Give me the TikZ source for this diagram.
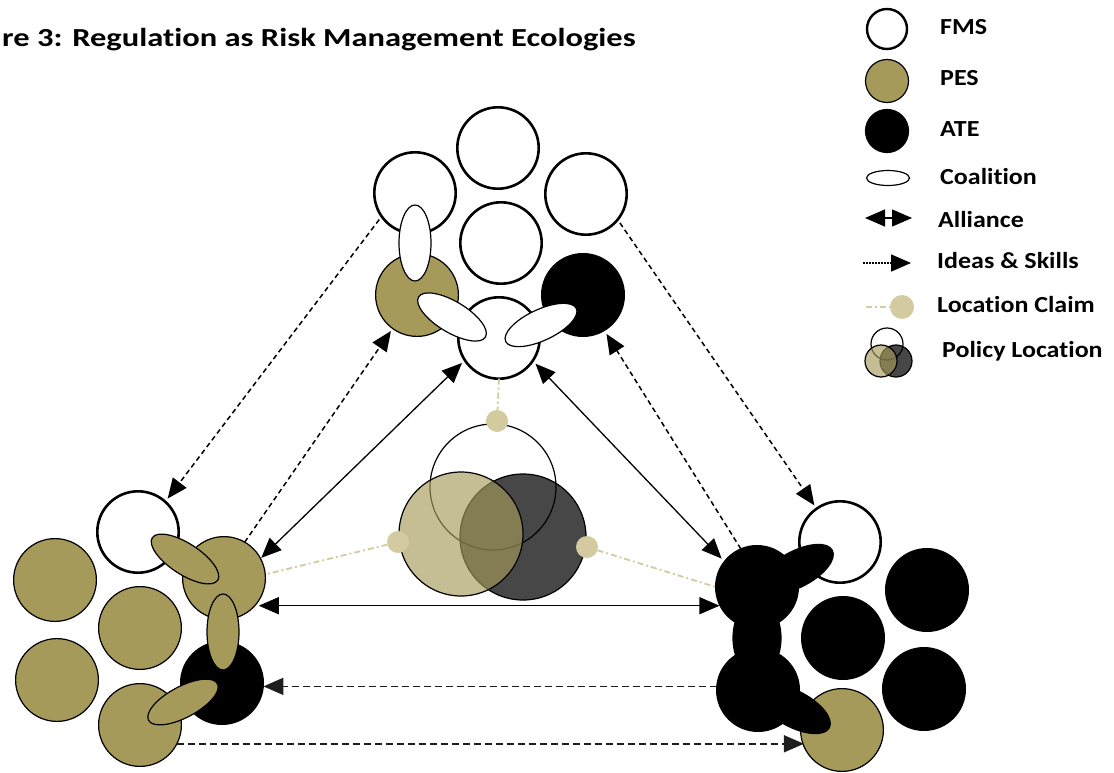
\documentclass[tikz,border=0pt]{standalone}
\usepackage{fontspec}
\setmainfont{Carlito}[Ligatures=NoCommon]
\usetikzlibrary{shapes.geometric,arrows.meta}
\definecolor{pes}{RGB}{166,154,90}
\definecolor{claim}{RGB}{212,202,160}
\newcommand{\legstretch}[1]{\scalebox{1.13}[1]{#1}}
\tikzset{
  fms/.style={circle,draw=black,line width=2.6pt,fill=white,minimum size=81.4pt,inner sep=0pt,outer sep=0pt},
  pesc/.style={circle,draw=black,line width=1.2pt,fill=pes,minimum size=82.8pt,inner sep=0pt,outer sep=0pt},
  atec/.style={circle,draw=black,line width=1.2pt,fill=black,minimum size=82.8pt,inner sep=0pt,outer sep=0pt},
  coalv/.style={ellipse,draw=black,line width=1.2pt,fill=white,minimum width=32pt,minimum height=76pt,inner sep=0pt,outer sep=0pt},
  coald/.style={ellipse,draw=black,line width=1.2pt,fill=white,minimum width=78pt,minimum height=31pt,inner sep=0pt,outer sep=0pt},
  ideas/.style={line width=1.5pt,dash pattern=on 5pt off 3.5pt,-{Triangle[length=20pt,width=17pt]}},
  ideash/.style={line width=1.6pt,dash pattern=on 7pt off 4pt,-{Triangle[length=20pt,width=17pt]},draw={rgb,255:red,30;green,30;blue,30}},
  alliance/.style={line width=1.3pt,{Triangle[length=20pt,width=17pt]}-{Triangle[length=20pt,width=17pt]}},
  claimline/.style={draw=claim,line width=1.8pt,dash pattern=on 6pt off 3pt on 2pt off 3pt},
  claimdot/.style={circle,fill=claim,minimum size=22pt,inner sep=0pt,outer sep=0pt},
  legtext/.style={font=\fontsize{23}{25}\selectfont\bfseries,inner sep=0pt,anchor=base west},
}
\begin{document}
\begin{tikzpicture}[x=1pt,y=-1pt]
\useasboundingbox (0,0) rectangle (1114,773);
% title
\node[font=\fontsize{26}{28}\selectfont\bfseries,inner sep=0pt,anchor=base west] (title) at (2,47) {\scalebox{1.25}[1]{re 3: Regulation as Risk Management Ecologies}};

% ---------- top cluster ----------
\node[fms] (tA) at (498,148) {};
\node[fms] (tB) at (415,193) {};
\node[fms] (tC) at (586,194) {};
\node[fms] (tD) at (501,243) {};
\node[pesc] (tP) at (417,295) {};
\node[atec] (tK) at (583,295) {};
\node[fms] (tE) at (499,338) {};
\node[coalv] (tV) at (415,243) {};
\node[coald,rotate=-31] (tL) at (452,317) {};
\node[coald,rotate=25] (tR) at (541,325) {};

% ---------- left cluster ----------
\node[fms] (lF) at (138,532) {};
\node[pesc] (lP1) at (224,578) {};
\node[pesc] (lP2) at (55,580) {};
\node[pesc] (lP3) at (140,628) {};
\node[pesc] (lP4) at (57,680) {};
\node[atec] (lK) at (222,683) {};
\node[pesc] (lP5) at (140,725) {};
\node[coald,fill=pes,rotate=-33] (lU) at (185,559) {};
\node[coalv,fill=pes] (lV) at (223,632) {};
\node[coald,fill=pes,rotate=28] (lD) at (183,702) {};

% ---------- right cluster ----------
\node[fms] (rF) at (840,542) {};
\node[atec] (rK1) at (757,587) {};
\node[atec] (rK2) at (843,638) {};
\node[atec] (rK3) at (927,590) {};
\node[atec] (rK4) at (758,690) {};
\node[atec] (rK5) at (924,689) {};
\node[pesc] (rP) at (842,730) {};
\node[coald,fill=black,rotate=28,minimum width=80pt,minimum height=36pt] (rU) at (797,569) {};
\node[coalv,fill=black,minimum width=48pt] (rV) at (757,638) {};
\node[coald,fill=black,rotate=-28,minimum width=80pt,minimum height=36pt] (rD) at (794,709) {};

% ---------- policy location (Venn) ----------
\node[circle,draw=black,line width=1.2pt,fill=white,minimum size=126pt,inner sep=0pt] (vW) at (493,487) {};
\node[circle,draw=black,line width=1.2pt,fill=black,fill opacity=0.72,minimum size=126pt,inner sep=0pt] (vK) at (523,537) {};
\node[circle,draw=black,line width=1.2pt,fill=pes,fill opacity=0.65,minimum size=124pt,inner sep=0pt] (vP) at (461,534) {};

% ---------- location claims ----------
\node[claimdot] (cT) at (497,421) {};
\node[claimdot] (cL) at (398,542) {};
\node[claimdot] (cR) at (587,547) {};
\draw[claimline] (tE.south) -- (cT);
\draw[claimline] (cL) -- (lP1.5);
\draw[claimline] (cR) -- (rK1.west);

% ---------- connectors ----------
\draw[ideas,shorten <=4pt,shorten >=4pt] (tB.215) -- (lF.48);
\draw[ideas,shorten >=3pt] (lP1.60) -- (tP.234);
\draw[ideas,shorten <=4pt,shorten >=4pt] (tC.321) -- (rF.125);
\draw[ideas,shorten >=4pt] (rK1.113) -- (tK.301);
\draw[alliance,shorten <=1pt,shorten >=4pt] (lP1.28) -- (tE.213);
\draw[alliance,shorten <=4pt,shorten >=4pt] (tE.326) -- (rK1.142);
\draw[alliance,shorten <=4pt] (lP1.318) -- (lP1.318 -| rK1.205);
\draw[ideash] (rK4.175) -- (rK4.175 -| lK.east);
\draw[ideash] (lP5.333) -- (lP5.333 -| rP.203);

% ---------- legend ----------
\node[circle,draw=black,line width=2.4pt,fill=white,minimum size=40pt,inner sep=0pt] (gF) at (887,29) {};
\node[circle,draw=black,line width=1.2pt,fill=pes,minimum size=43pt,inner sep=0pt] (gP) at (887,81) {};
\node[circle,draw=black,line width=1.2pt,fill=black,minimum size=43pt,inner sep=0pt] (gK) at (887,131) {};
\node[ellipse,draw=black,line width=1.2pt,fill=white,minimum width=43pt,minimum height=15pt,inner sep=0pt] (gC) at (888,178) {};
\coordinate (gA1) at (865,218);
\coordinate (gA2) at (912,218);
\draw[alliance] (gA1) -- (gA2);
\coordinate (gI1) at (863,263);
\coordinate (gI2) at (911,263);
\draw[line width=1.5pt,dash pattern=on 1.5pt off 1.5pt,-{Triangle[length=20pt,width=17pt]}] (gI1) -- (gI2);
\node[claimdot,minimum size=24pt] (gLd) at (902,307) {};
\coordinate (gL1) at (866,307);
\draw[claimline] (gL1) -- (gLd);
\node[circle,draw=black,line width=1.2pt,fill=white,minimum size=32pt,inner sep=0pt] (gW) at (887,344) {};
\node[circle,draw=black,line width=1.2pt,fill=black,fill opacity=0.72,minimum size=32pt,inner sep=0pt] (gVK) at (896,361) {};
\node[circle,draw=black,line width=1.2pt,fill=pes,fill opacity=0.65,minimum size=32pt,inner sep=0pt] (gVP) at (881,361) {};

\node[legtext] (tF) at (940,35) {\legstretch{FMS}};
\node[legtext] (tPt) at (940,86) {\legstretch{PES}};
\node[legtext] (tKt) at (940,137) {\legstretch{ATE}};
\node[legtext] (tCt) at (940,185) {\legstretch{Coalition}};
\node[legtext] (tAt) at (938,227) {\legstretch{Alliance}};
\node[legtext] (tIt) at (937,268) {\legstretch{Ideas \& Skills}};
\node[legtext] (tLt) at (937,312) {\legstretch{Location Claim}};
\node[legtext] (tPL) at (942,357) {\legstretch{Policy Location}};
\end{tikzpicture}
\end{document}
